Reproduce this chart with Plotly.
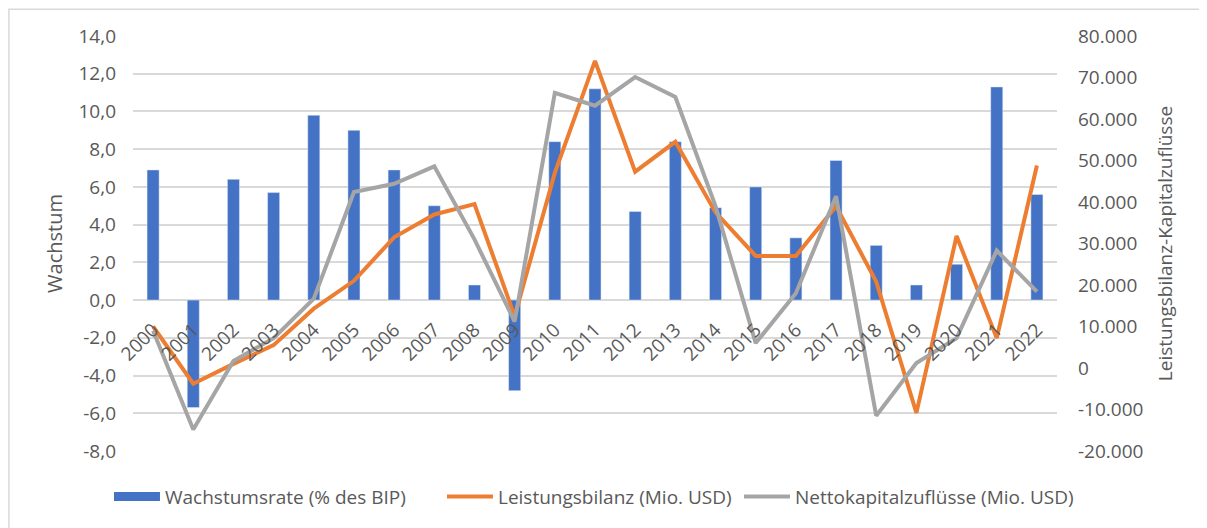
import plotly.graph_objects as go

# Data
years = [str(y) for y in range(2000, 2023)]
wachstum = [6.9, -5.7, 6.4, 5.7, 9.8, 9.0, 6.9, 5.0, 0.8, -4.8, 8.4, 11.2,
            4.7, 8.4, 4.9, 6.0, 3.3, 7.4, 2.9, 0.8, 1.9, 11.3, 5.6]
leistungsbilanz = [10000, -3800, 1000, 5500, 14300, 21000, 31500, 37000, 39500,
                   12500, 47000, 74000, 47300, 54500, 37500, 27000, 27000, 39000,
                   20800, -10800, 31800, 7200, 48800]
kapitalzufluesse = [9000, -14800, 1700, 7200, 16700, 42400, 44400, 48600, 31000,
                    11200, 66300, 63200, 70100, 65300, 39000, 6000, 18000, 41400,
                    -11500, 1200, 7200, 28300, 18400]

left_ticks = list(range(-8, 15, 2))
left_labels = [f"{v:.1f}".replace(".", ",") for v in left_ticks]
right_ticks = list(range(-20000, 80001, 10000))
right_labels = [f"{v:,}".replace(",", ".") for v in right_ticks]

FONT = "Open Sans"
GREY_TXT = "#595959"
BLUE = "#4472C4"

fig = go.Figure()
fig.add_trace(go.Bar(
    x=years, y=wachstum, name="Wachstumsrate (% des BIP)",
    marker=dict(color=BLUE), yaxis="y", showlegend=False
))
# legend-only entry so the bar swatch is a wide rectangle like in Excel
fig.add_trace(go.Scatter(
    x=[None], y=[None], name="Wachstumsrate (% des BIP)",
    mode="lines", line=dict(color=BLUE, width=9), yaxis="y", legend="legend"
))
fig.add_trace(go.Scatter(
    x=years, y=leistungsbilanz, name="Leistungsbilanz (Mio. USD)",
    mode="lines", line=dict(color="#ED7D31", width=4), yaxis="y2", legend="legend2"
))
fig.add_trace(go.Scatter(
    x=years, y=kapitalzufluesse, name="Nettokapitalzuflüsse (Mio. USD)",
    mode="lines", line=dict(color="#A5A5A5", width=4), yaxis="y2", legend="legend3"
))

ymin, ymax = -8, 14
zero_pos = (0 - ymin) / (ymax - ymin)

legend_style = dict(orientation="h", xanchor="left", y=-0.11, yanchor="middle",
                    font=dict(size=19, color=GREY_TXT), itemwidth=46,
                    bgcolor="rgba(0,0,0,0)")

fig.update_layout(
    width=1199, height=520,
    margin=dict(l=125, r=150, t=28, b=74),
    paper_bgcolor="white", plot_bgcolor="white",
    font=dict(family=FONT, size=19, color=GREY_TXT),
    bargap=0.7,
    showlegend=True,
    legend=dict(x=-0.026, **legend_style),
    legend2=dict(x=0.3344, **legend_style),
    legend3=dict(x=0.6558, **legend_style),
    xaxis=dict(
        type="category", anchor="free", position=zero_pos,
        tickangle=-45, showgrid=False, showline=False, ticks="",
        tickfont=dict(size=19, color=GREY_TXT), ticklabelstandoff=14,
    ),
    yaxis=dict(
        range=[ymin, ymax], tickvals=left_ticks, ticktext=left_labels,
        showgrid=True, gridcolor="#D9D9D9", gridwidth=1.5, zeroline=False,
        showline=False, ticks="", ticklabelstandoff=16,
        title=dict(text="Wachstum", font=dict(size=20, color=GREY_TXT), standoff=10),
    ),
    yaxis2=dict(
        range=[-20000, 80000], tickvals=right_ticks, ticktext=right_labels,
        overlaying="y", side="right", showgrid=False, zeroline=False,
        showline=False, ticks="", ticklabelstandoff=20,
        title=dict(text="Leistungsbilanz-Kapitalzuflüsse",
                   font=dict(size=19, color=GREY_TXT), standoff=16),
    ),
    shapes=[dict(type="rect", xref="paper", yref="paper",
                 x0=-0.1343, x1=1.3, y0=-0.4, y1=1.0646,
                 line=dict(color="#D9D9D9", width=1.5), layer="below")],
)

fig.write_html("out.html")
